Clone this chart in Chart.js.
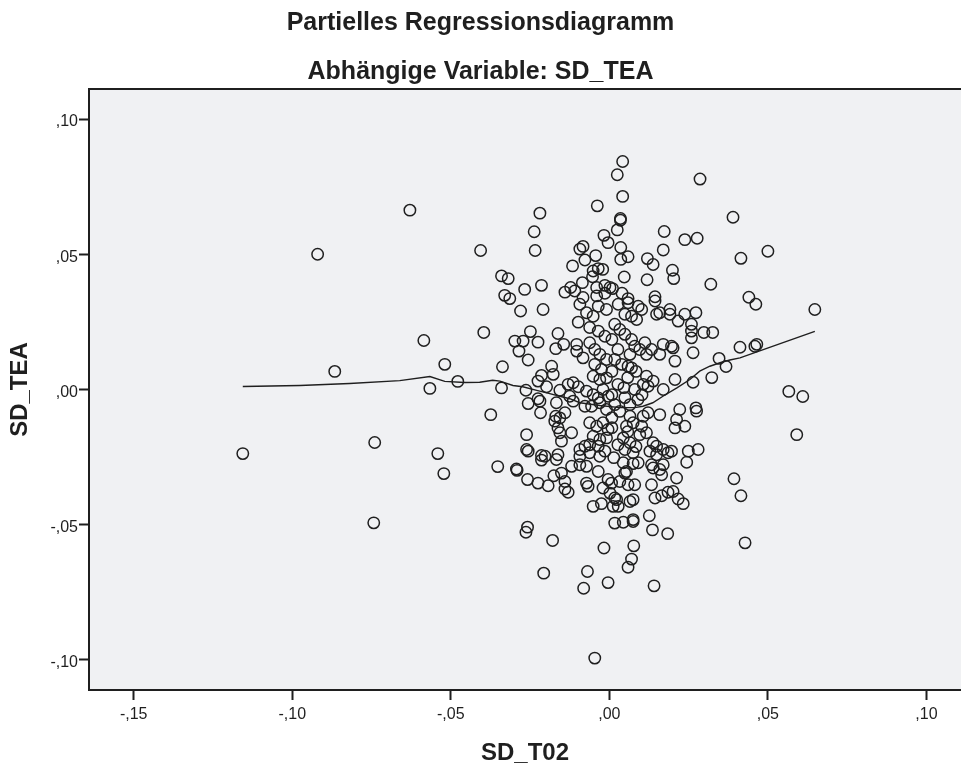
<!DOCTYPE html>
<html>
<head>
<meta charset="utf-8">
<script src="https://cdn.jsdelivr.net/npm/chart.js"></script>
<style>
    html, body { margin: 0; padding: 0; background: #fff; }
    canvas { display: block; }
</style>
</head>
<body>
<canvas id="myChart" width="961" height="765"></canvas>
<script>
    // Partielle Residuen: SD_T02 (x) gegen SD_TEA (y), Paare zeilenweise
    var sdT02 = [
        -0.1156,-0.0920,-0.0866,-0.0629,-0.0740,-0.0743,-0.0585,-0.0566,-0.0541,-0.0522,
        -0.0519,-0.0478,-0.0406,-0.0396,-0.0374,-0.0352,0.0648,0.0566,0.0610,0.0591,
        0.0500,0.0415,0.0390,0.0440,0.0462,0.0459,0.0465,0.0412,0.0368,0.0346,
        0.0323,0.0320,0.0326,0.0298,0.0393,0.0415,0.0428,0.0286,
        -0.0219,-0.0038,-0.0237,-0.0234,-0.0017,-0.0004,-0.0093,-0.0083,-0.0043,-0.0077,
        -0.0116,-0.0051,-0.0035,-0.0021,-0.0053,-0.0085,-0.0040,-0.0014,-0.0340,-0.0319,
        -0.0267,-0.0214,-0.0330,-0.0314,-0.0140,-0.0122,-0.0109,-0.0083,-0.0040,-0.0014,
        0.0042,0.0025,0.0042,0.0035,0.0035,0.0025,0.0173,0.0238,0.0277,0.0036,
        0.0170,0.0036,0.0059,0.0120,0.0138,0.0199,0.0203,0.0047,0.0119,0.0002,
        0.0010,0.0040,0.0144,0.0059,
        -0.0280,-0.0209,-0.0249,-0.0298,-0.0272,-0.0225,-0.0285,-0.0162,-0.0144,-0.0169,
        -0.0098,-0.0103,-0.0103,-0.0083,-0.0256,-0.0337,-0.0182,-0.0177,-0.0214,-0.0225,
        -0.0198,-0.0340,-0.0263,-0.0156,-0.0130,-0.0114,-0.0098,-0.0225,-0.0219,-0.0256,
        -0.0167,-0.0125,-0.0114,-0.0217,-0.0140,-0.0169,-0.0156,-0.0172,-0.0162,-0.0156,
        -0.0119,-0.0261,-0.0151,-0.0261,-0.0256,-0.0214,-0.0203,-0.0162,-0.0093,-0.0077,
        -0.0062,-0.0093,-0.0072,-0.0051,-0.0035,-0.0009,-0.0093,-0.0062,-0.0035,-0.0014,
        -0.0062,-0.0046,-0.0030,-0.0009,-0.0046,-0.0025,-0.0051,-0.0030,-0.0009,-0.0072,
        -0.0051,-0.0035,-0.0020,-0.0004,-0.0077,-0.0056,-0.0030,-0.0009,-0.0062,-0.0040,
        -0.0020,-0.0004,-0.0051,-0.0030,-0.0009,-0.0035,-0.0014,-0.0062,-0.0030,
        0.0028,0.0059,0.0091,0.0102,0.0144,0.0049,0.0070,0.0086,0.0149,0.0159,
        0.0191,0.0191,0.0217,0.0238,0.0273,0.0259,0.0259,0.0259,0.0264,0.0207,
        0.0264,0.0207,0.0170,0.0222,0.0273,0.0275,0.0212,0.0207,0.0238,0.0159,
        0.0122,0.0107,0.0112,0.0133,0.0170,0.0196,0.0201,0.0159,0.0117,0.0080,
        0.0070,0.0059,0.0070,0.0117,0.0122,0.0138,0.0107,0.0138,0.0149,0.0170,
        0.0185,0.0196,0.0128,0.0149,0.0249,0.0280,0.0102,0.0096,0.0117,0.0065,
        0.0075,0.0054,0.0044,0.0065,0.0075,
        0.0017,0.0033,0.0008,0.0049,0.0027,0.0065,0.0096,0.0017,0.0039,0.0008,
        0.0058,0.0027,0.0080,0.0008,0.0049,0.0090,0.0017,0.0065,0.0033,0.0008,
        0.0084,0.0103,0.0046,0.0008,0.0027,0.0014,0.0049,0.0084,0.0058,
        -0.0293,-0.0291,-0.0258,-0.0225,-0.0193,-0.0175,-0.0151,-0.0140,-0.0140,-0.0130,
        -0.0214,-0.0167,-0.0119,-0.0093,-0.0072,-0.0072,-0.0067,-0.0035,-0.0020,-0.0004,
        -0.0051,-0.0025,-0.0258,-0.0263,-0.0179,-0.0017,-0.0207,-0.0069,-0.0081,-0.0004,
        0.0044,0.0075,0.0091,0.0133,0.0138,0.0159,0.0165,0.0170,0.0244,0.0049,
        0.0054,0.0007,0.0033,0.0059,0.0080,0.0212,0.0133,0.0002,0.0017,0.0023,
        0.0028,0.0012,0.0065,0.0075,0.0144,0.0165,0.0185,0.0201,0.0217,0.0233,
        0.0017,0.0044,0.0075,0.0075,0.0126,0.0136,0.0184,0.0077,0.0070,0.0059,
        0.0141,-0.0046
    ];
    var sdTEA = [
        -0.0237,0.0500,0.0067,0.0663,-0.0196,-0.0493,0.0181,0.0004,-0.0237,-0.0311,
        0.0093,0.0030,0.0514,0.0211,-0.0093,-0.0285,0.0296,-0.0007,-0.0026,-0.0167,
        0.0511,0.0485,0.0637,0.0341,0.0315,0.0160,0.0167,0.0156,0.0085,0.0115,
        0.0044,0.0389,0.0211,0.0211,-0.0330,-0.0393,-0.0567,0.0778,
        0.0652,0.0679,0.0583,0.0514,0.0570,0.0543,0.0519,0.0529,0.0495,0.0479,
        0.0457,0.0438,0.0447,0.0444,0.0417,0.0395,0.0377,0.0385,0.0420,0.0410,
        0.0370,0.0385,0.0348,0.0336,0.0360,0.0377,0.0364,0.0340,0.0346,0.0356,
        0.0843,0.0794,0.0714,0.0632,0.0626,0.0590,0.0584,0.0554,0.0559,0.0525,
        0.0516,0.0481,0.0491,0.0484,0.0462,0.0441,0.0410,0.0416,0.0406,0.0377,
        0.0373,0.0356,0.0343,0.0336,
        0.0290,0.0296,0.0214,0.0179,0.0179,0.0175,0.0142,0.0207,0.0167,0.0151,
        0.0249,0.0167,0.0142,0.0117,0.0109,0.0084,0.0086,0.0056,0.0052,0.0031,
        0.0010,0.0006,-0.0003,-0.0003,0.0019,0.0025,0.0010,-0.0034,-0.0043,-0.0052,
        -0.0049,-0.0025,-0.0043,-0.0086,-0.0086,-0.0099,-0.0105,-0.0117,-0.0142,-0.0160,
        -0.0160,-0.0167,-0.0191,-0.0222,-0.0228,-0.0244,-0.0247,-0.0241,-0.0222,-0.0210,
        -0.0204,-0.0247,0.0284,0.0271,0.0308,0.0296,0.0315,0.0229,0.0216,0.0197,
        0.0173,0.0148,0.0130,0.0111,0.0093,0.0074,0.0049,0.0037,0.0043,-0.0006,
        -0.0019,-0.0031,0.0000,-0.0025,-0.0062,-0.0062,-0.0049,-0.0074,-0.0123,-0.0136,
        -0.0123,-0.0148,-0.0173,-0.0185,-0.0179,-0.0210,-0.0228,-0.0234,-0.0247,
        0.0315,0.0321,0.0308,0.0296,0.0327,0.0278,0.0271,0.0259,0.0278,0.0284,
        0.0296,0.0278,0.0253,0.0278,0.0284,0.0241,0.0216,0.0191,0.0136,0.0105,
        0.0027,0.0037,0.0000,-0.0074,-0.0068,-0.0080,-0.0111,-0.0142,-0.0136,-0.0093,
        -0.0086,-0.0099,0.0173,0.0148,0.0167,0.0160,0.0154,0.0130,0.0130,0.0160,
        0.0185,0.0086,0.0080,0.0049,0.0012,0.0031,0.0019,-0.0197,-0.0210,-0.0222,
        -0.0234,-0.0228,-0.0228,-0.0241,-0.0228,-0.0222,-0.0136,-0.0167,-0.0160,-0.0099,
        -0.0123,-0.0136,-0.0179,-0.0197,-0.0234,
        0.0241,0.0222,0.0185,0.0204,0.0148,0.0130,0.0148,0.0111,0.0093,0.0067,
        0.0044,0.0019,0.0000,-0.0019,-0.0030,-0.0037,-0.0056,-0.0056,-0.0081,-0.0104,
        0.0067,-0.0019,0.0007,-0.0141,-0.0204,-0.0252,-0.0222,-0.0211,-0.0156,
        -0.0294,-0.0299,-0.0333,-0.0346,-0.0356,-0.0319,-0.0309,-0.0340,-0.0368,-0.0380,
        -0.0261,-0.0259,-0.0284,-0.0278,-0.0284,-0.0346,-0.0358,-0.0303,-0.0364,-0.0333,
        -0.0432,-0.0422,-0.0509,-0.0528,-0.0558,-0.0586,-0.0679,-0.0673,-0.0735,-0.0714,
        -0.0271,-0.0274,-0.0271,-0.0278,-0.0290,-0.0296,-0.0315,-0.0278,-0.0269,-0.0309,
        -0.0303,-0.0346,-0.0340,-0.0352,-0.0352,-0.0327,-0.0352,-0.0383,-0.0401,-0.0407,
        -0.0432,-0.0432,-0.0414,-0.0407,-0.0401,-0.0393,-0.0380,-0.0377,-0.0405,-0.0422,
        -0.0494,-0.0491,-0.0481,-0.0488,-0.0467,-0.0519,-0.0533,-0.0578,-0.0627,-0.0657,
        -0.0726,-0.0993
    ];

    // Loess-Anpassungslinie
    var fitX = [-0.1156,-0.0976,-0.0819,-0.0661,-0.0566,-0.0519,-0.0456,-0.0409,-0.0368,-0.0345,
                -0.0304,-0.0273,-0.0229,-0.0188,-0.0156,-0.0125,-0.0093,-0.0030,0.0033,0.0080,
                0.0106,0.0137,0.0169,0.0213,0.0254,0.0285,0.0317,0.0349,0.0380,0.0412,0.0648];
    var fitY = [0.0011,0.0015,0.0022,0.0033,0.0048,0.0030,0.0026,0.0027,0.0034,0.0031,
                0.0015,0.0010,-0.0003,-0.0015,-0.0025,-0.0034,-0.0049,-0.0059,-0.0067,-0.0067,
                -0.0062,-0.0049,-0.0025,0.0006,0.0037,0.0068,0.0086,0.0099,0.0109,0.0117,0.0215];

    var xTicks = [-0.15, -0.10, -0.05, 0.00, 0.05, 0.10];
    var yTicks = [-0.10, -0.05, 0.00, 0.05, 0.10];

    var ink = '#1f1f1f';
    var fontFamily = '"Liberation Sans", Arial, sans-serif';

    // SPSS-Format: Dezimalkomma, ohne führende Null
    function spssLabel(v) {
        return v.toFixed(2).replace('0.', ',').replace('.', ',');
    }

    var points = sdT02.map(function (x, i) { return { x: x, y: sdTEA[i] }; });
    var fit = fitX.map(function (x, i) { return { x: x, y: fitY[i] }; });

    // Hintergrund der Zeichenfläche und obere Rahmenlinie
    var plotFrame = {
        id: 'plotFrame',
        beforeDraw: function (chart) {
            var a = chart.chartArea, ctx = chart.ctx;
            ctx.save();
            ctx.fillStyle = '#f0f1f3';
            ctx.fillRect(a.left, a.top, a.right - a.left, a.bottom - a.top);
            ctx.restore();
        },
        afterDraw: function (chart) {
            var a = chart.chartArea, ctx = chart.ctx;
            ctx.save();
            ctx.strokeStyle = ink;
            ctx.lineWidth = 2;
            ctx.beginPath();
            ctx.moveTo(a.left, a.top);
            ctx.lineTo(a.right, a.top);
            ctx.stroke();
            ctx.restore();
        }
    };

    var ctx = document.getElementById('myChart').getContext('2d');
    window.myChart = new Chart(ctx, {
        type: 'scatter',
        data: {
            datasets: [{
                data: points,
                pointStyle: 'circle',
                pointRadius: 5.7,
                borderColor: ink,
                borderWidth: 1.5,
                backgroundColor: 'rgba(0,0,0,0)'
            }, {
                type: 'line',
                data: fit,
                borderColor: ink,
                borderWidth: 1.4,
                pointRadius: 0,
                fill: false,
                tension: 0
            }]
        },
        options: {
            responsive: false,
            animation: false,
            devicePixelRatio: 1,
            layout: { padding: 0, autoPadding: false },
            plugins: {
                legend: { display: false },
                tooltip: { enabled: false },
                title: {
                    display: true,
                    text: 'Partielles Regressionsdiagramm',
                    color: ink,
                    font: { family: fontFamily, size: 25, weight: 'bold' },
                    padding: { top: 8.5, bottom: 0 }
                },
                subtitle: {
                    display: true,
                    text: 'Abhängige Variable: SD_TEA',
                    color: ink,
                    font: { family: fontFamily, size: 25, weight: 'bold' },
                    padding: { top: 18.5, bottom: 2 }
                }
            },
            scales: {
                x: {
                    type: 'linear',
                    min: -0.1641,
                    max: 0.1109,
                    afterBuildTicks: function (axis) {
                        axis.ticks = xTicks.map(function (v) { return { value: v }; });
                    },
                    afterFit: function (axis) {
                        axis.height = 75;
                        axis.paddingLeft = 0;
                        axis.paddingRight = 0;
                    },
                    ticks: {
                        callback: spssLabel,
                        color: ink,
                        padding: 5,
                        maxRotation: 0,
                        font: { family: fontFamily, size: 16 }
                    },
                    grid: {
                        drawOnChartArea: false,
                        tickLength: 10,
                        tickColor: ink,
                        tickWidth: 2
                    },
                    border: { color: ink, width: 2 },
                    title: {
                        display: true,
                        text: 'SD_T02',
                        color: ink,
                        font: { family: fontFamily, size: 24, weight: 'bold', lineHeight: 1 },
                        padding: { top: 0, bottom: 0 }
                    }
                },
                y: {
                    type: 'linear',
                    min: -0.1111,
                    max: 0.1111,
                    afterBuildTicks: function (axis) {
                        axis.ticks = yTicks.map(function (v) { return { value: v }; });
                    },
                    afterFit: function (axis) { axis.width = 89; },
                    ticks: {
                        callback: spssLabel,
                        color: ink,
                        padding: 1,
                        labelOffset: 3,
                        font: { family: fontFamily, size: 16 }
                    },
                    grid: {
                        drawOnChartArea: false,
                        tickLength: 10,
                        tickColor: ink,
                        tickWidth: 2
                    },
                    border: { color: ink, width: 2 },
                    title: {
                        display: true,
                        text: 'SD_TEA',
                        color: ink,
                        font: { family: fontFamily, size: 24, weight: 'bold' },
                        padding: { top: 6, bottom: 0 }
                    }
                }
            }
        },
        plugins: [plotFrame]
    });
</script>
</body>
</html>
